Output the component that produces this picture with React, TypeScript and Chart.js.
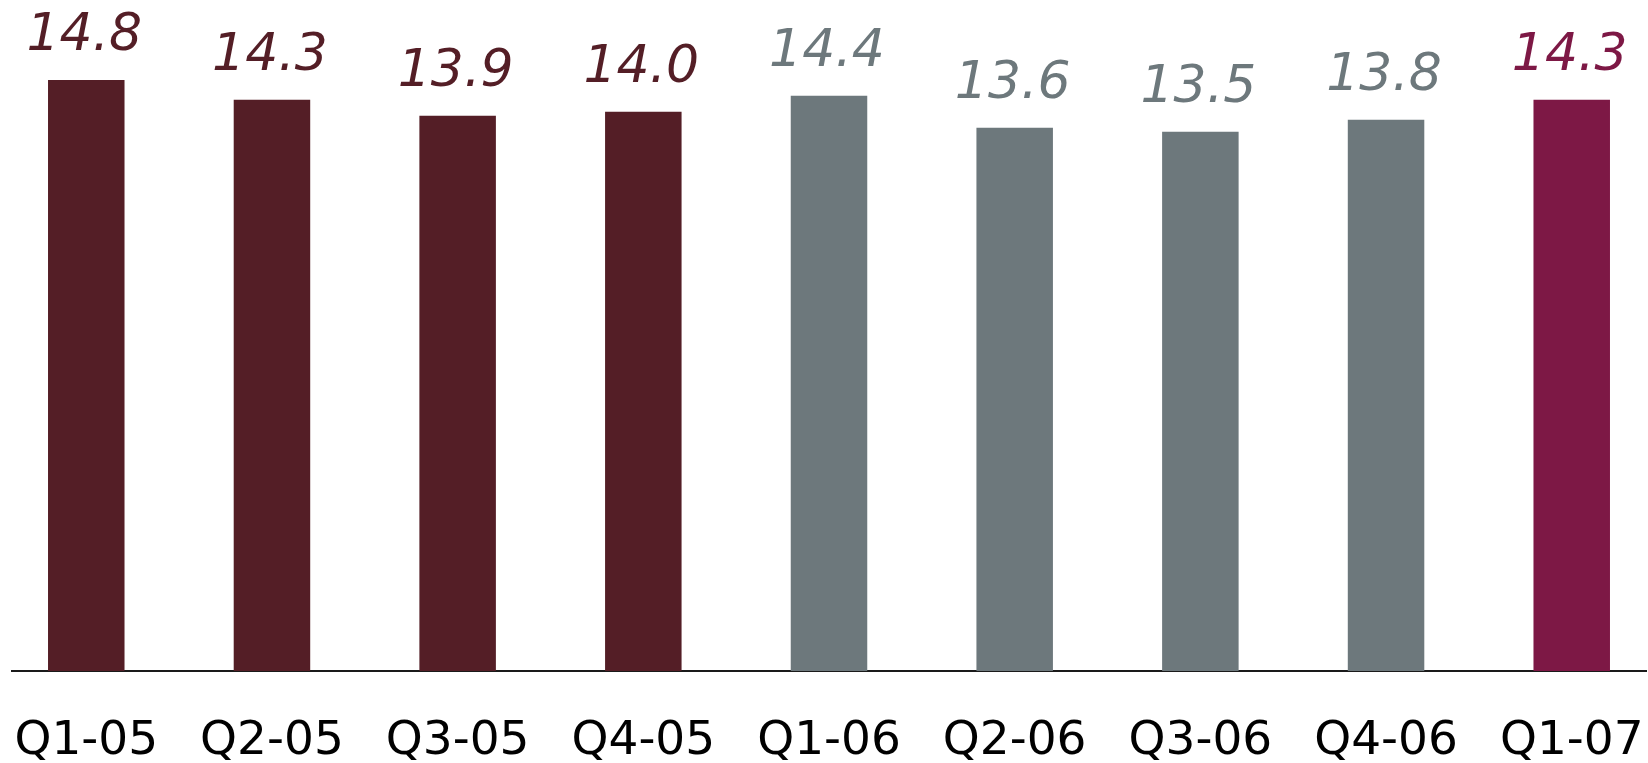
import React, { useEffect, useRef } from "react";
import { Chart, registerables } from "chart.js";

Chart.register(...registerables);

const categories = ["Q1-05", "Q2-05", "Q3-05", "Q4-05", "Q1-06", "Q2-06", "Q3-06", "Q4-06", "Q1-07"];
const values = [14.8, 14.3, 13.9, 14.0, 14.4, 13.6, 13.5, 13.8, 14.3];
const periodGroup = ["2005", "2005", "2005", "2005", "2006", "2006", "2006", "2006", "2007"];

const groupColors: Record<string, string> = {
  "2005": "#541E26",
  "2006": "#6D787C",
  "2007": "#7D1845",
};

const valueLabelPlugin = {
  id: "valueLabels",
  afterDatasetsDraw(chart: any) {
    const ctx = chart.ctx;
    const meta = chart.getDatasetMeta(0);
    ctx.save();
    ctx.font = 'italic 52px "DejaVu Sans"';
    ctx.textAlign = "center";
    ctx.textBaseline = "alphabetic";
    meta.data.forEach((el: any, i: number) => {
      ctx.fillStyle = groupColors[periodGroup[i]];
      ctx.fillText(values[i].toFixed(1), el.x - 2, el.y - 29.5);
    });
    ctx.restore();
  },
};

export default function App() {
  const canvasRef = useRef<HTMLCanvasElement | null>(null);

  useEffect(() => {
    document.body.style.margin = "0";
    document.body.style.overflow = "hidden";
    const canvas = canvasRef.current;
    if (!canvas) return;
    const chart = new Chart(canvas, {
      type: "bar",
      data: {
        datasets: [
          {
            data: values.map((v, i) => ({ x: i, y: v })),
            backgroundColor: periodGroup.map((g) => groupColors[g]),
            borderWidth: 0,
            barPercentage: 0.412,
            categoryPercentage: 1,
          },
        ],
      },
      options: {
        animation: false,
        responsive: true,
        maintainAspectRatio: false,
        layout: { padding: { left: 12, right: 2, top: 0, bottom: 0 } },
        plugins: {
          legend: { display: false },
          tooltip: { enabled: false },
          title: { display: false },
        },
        scales: {
          x: {
            type: "linear",
            offset: false,
            min: -0.4,
            max: 8.4,
            grid: { display: false, drawTicks: false },
            border: { display: true, color: "#1a1a1a", width: 2 },
            afterBuildTicks: (scale: any) => {
              scale.ticks = categories.map((_, i) => ({ value: i }));
            },
            ticks: {
              autoSkip: false,
              maxRotation: 0,
              minRotation: 0,
              padding: 0,
              color: "#000000",
              font: { family: '"DejaVu Sans"', size: 47, lineHeight: "142px" },
              callback: (v: any) => categories[v as number] ?? "",
            },
          },
          y: {
            display: false,
            min: 0,
            max: 16.8,
          },
        },
      },
      plugins: [valueLabelPlugin],
    });
    return () => chart.destroy();
  }, []);

  return (
    <div style={{ position: "absolute", left: 0, top: 0, width: 1648, height: 813 }}>
      <canvas ref={canvasRef} />
    </div>
  );
}
